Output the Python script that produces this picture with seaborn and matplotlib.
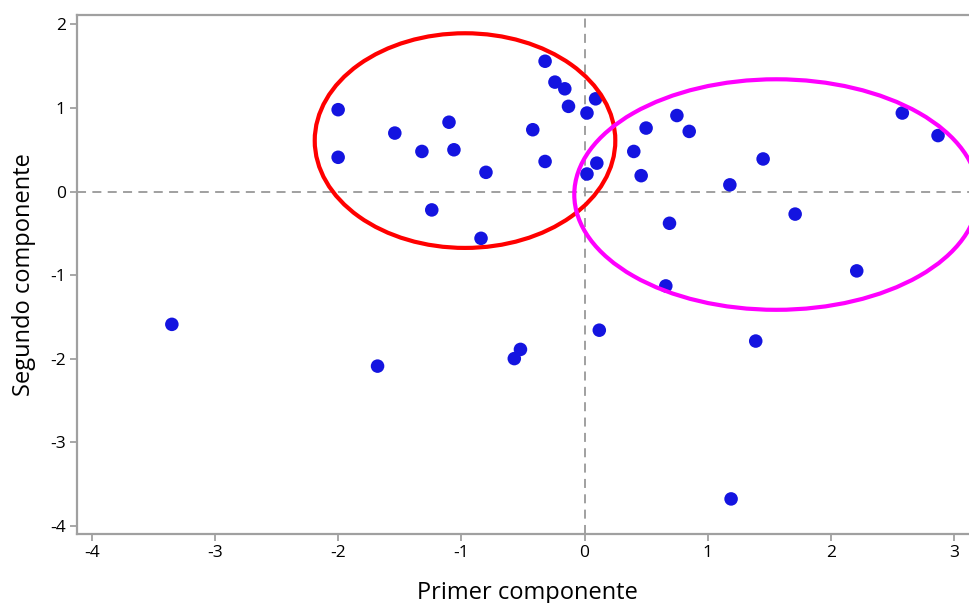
import matplotlib
matplotlib.use("Agg")
import matplotlib.pyplot as plt
from matplotlib.patches import Ellipse
import seaborn as sns
import pandas as pd

# Component scores (first and second principal components)
primer = [-3.35, -2.00, -2.00, -1.54, -1.32, -1.24, -1.10, -1.06, -0.80, -0.84,
          -0.42, -0.32, -0.32, -0.24, -0.16, -0.13, 0.02, 0.09, 0.02, 0.10,
          0.40, 0.46, 0.50, 0.75, 0.85, 0.69, 0.66, 1.18, 1.45, 1.71,
          2.21, 2.58, 2.87, -1.68, -0.57, -0.52, 0.12, 1.39, 1.19]
segundo = [-1.59, 0.98, 0.41, 0.70, 0.48, -0.22, 0.83, 0.50, 0.23, -0.56,
           0.74, 1.56, 0.36, 1.31, 1.23, 1.02, 0.94, 1.11, 0.21, 0.34,
           0.48, 0.19, 0.76, 0.91, 0.72, -0.38, -1.13, 0.08, 0.39, -0.27,
           -0.95, 0.94, 0.67, -2.09, -2.00, -1.89, -1.66, -1.79, -3.68]

x_ticks = [-4, -3, -2, -1, 0, 1, 2, 3]
y_ticks = [-4, -3, -2, -1, 0, 1, 2]

# Group outlines: (center x, center y, width, height, colour)
grupo_izq = (-0.97, 0.61, 2.44, 2.57, "#FF0000")
grupo_der = (1.557, -0.036, 3.28, 2.76, "#FF00FF")

df = pd.DataFrame({"Primer componente": primer, "Segundo componente": segundo})

sns.set_theme(style="white")
plt.rcParams["font.family"] = ["Open Sans", "DejaVu Sans"]

fig = plt.figure(figsize=(9.69, 6.03), dpi=100)
ax = fig.add_axes([77 / 969, 1 - 534 / 603, 1 - 77 / 969 + 0.01, (534 - 15.3) / 603])

ax.axhline(0, color="#999999", lw=1.3, ls=(0, (5, 3.5)), zorder=1)
ax.axvline(0, color="#999999", lw=1.3, ls=(0, (5, 3.5)), zorder=1)

sns.scatterplot(data=df, x="Primer componente", y="Segundo componente", ax=ax,
                color="#1414E0", s=95, edgecolor="none", zorder=3)

for cx, cy, w, h, col in (grupo_izq, grupo_der):
    ax.add_patch(Ellipse((cx, cy), w, h, fill=False, edgecolor=col, lw=3.0, zorder=4))

ax.set_xlim(-4.12, 3.2)
ax.set_ylim(-4.10, 2.11)
ax.set_xticks(x_ticks)
ax.set_yticks(y_ticks)
ax.set_xticklabels([str(v) for v in x_ticks])
ax.set_yticklabels([str(v) for v in y_ticks])

for side in ("left", "bottom", "top"):
    ax.spines[side].set_color("#A0A0A0")
    ax.spines[side].set_linewidth(1.6)
ax.spines["right"].set_visible(False)

ax.tick_params(axis="both", which="major", direction="out", length=5, width=1.3,
               color="#A0A0A0", labelsize=12.5, labelcolor="black", pad=3,
               bottom=True, left=True)

ax.set_xlabel("Primer componente", fontsize=17, color="black", labelpad=14)
ax.set_ylabel("Segundo componente", fontsize=17, color="black", labelpad=10)

fig.savefig("out.png", dpi=100)
